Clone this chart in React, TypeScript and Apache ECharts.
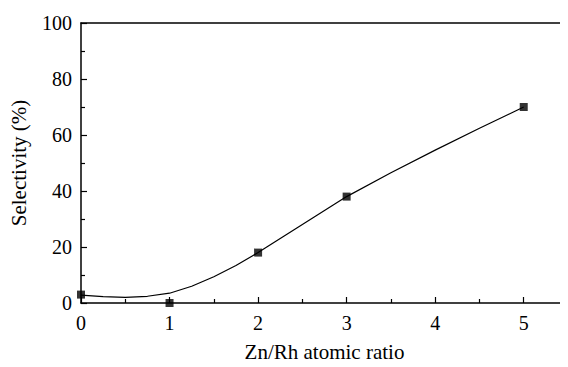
import React, { useEffect, useRef } from "react";
import * as echarts from "echarts";

const ratios = [0, 1, 2, 3, 5];
const selectivity = [3, 0, 18, 38, 70];
const fitX = [0, 0.25, 0.5, 0.75, 1, 1.25, 1.5, 1.75, 2, 2.5, 3, 3.5, 4, 4.5, 5];
const fitY = [2.8, 2.3, 2.0, 2.4, 3.5, 6.0, 9.4, 13.4, 18, 28, 38, 46.5, 54.6, 62.4, 70];
const yTicks = [0, 20, 40, 60, 80, 100];

export default function App() {
  const ref = useRef<HTMLDivElement>(null);
  useEffect(() => {
    if (!ref.current) return;
    const chart = echarts.init(ref.current, undefined, { renderer: "svg" });
    const font = "'Liberation Serif', 'Times New Roman', serif";
    chart.setOption({
      animation: false,
      grid: { left: 78, top: 23, right: 0, bottom: 57 },
      xAxis: [
        {
          type: "value",
          min: 0,
          max: 5.5,
          interval: 1,
          name: "Zn/Rh atomic ratio",
          nameLocation: "middle",
          nameGap: 38,
          nameTextStyle: { fontFamily: font, fontSize: 21, color: "#000" },
          axisLine: { lineStyle: { color: "#000", width: 1.5 } },
          axisTick: { inside: true, length: 6, lineStyle: { color: "#000", width: 1.2 } },
          minorTick: { show: true, splitNumber: 2, length: 4, lineStyle: { color: "#000", width: 1.2 } },
          axisLabel: {
            fontFamily: font,
            fontSize: 20,
            color: "#000",
            margin: 10,
            showMaxLabel: false,
          },
          splitLine: { show: false },
        },
        {
          type: "value",
          position: "top",
          min: 0,
          max: 5.5,
          axisLine: { show: true, onZero: false, lineStyle: { color: "#000", width: 1.5 } },
          axisTick: { show: false },
          axisLabel: { show: false },
          splitLine: { show: false },
        },
      ],
      yAxis: {
        type: "value",
        min: yTicks[0],
        max: yTicks[yTicks.length - 1],
        interval: 20,
        name: "Selectivity (%)",
        nameLocation: "middle",
        nameGap: 52,
        nameTextStyle: { fontFamily: font, fontSize: 21, color: "#000" },
        axisLine: { show: true, lineStyle: { color: "#000", width: 1.5 } },
        axisTick: { inside: true, length: 6, lineStyle: { color: "#000", width: 1.2 } },
        minorTick: { show: true, splitNumber: 2, length: 4, lineStyle: { color: "#000", width: 1.2 } },
        axisLabel: { fontFamily: font, fontSize: 20, color: "#000", margin: 9 },
        splitLine: { show: false },
      },
      series: [
        {
          type: "line",
          data: fitX.map((x, i) => [x, fitY[i]]),
          smooth: false,
          showSymbol: false,
          lineStyle: { color: "#000", width: 1.2, join: "round" },
          z: 2,
        },
        {
          type: "scatter",
          data: ratios.map((x, i) => [x, selectivity[i]]),
          symbol: "rect",
          symbolSize: 8,
          itemStyle: { color: "#000" },
          clip: false,
          z: 3,
        },
      ],
    });
    return () => chart.dispose();
  }, []);
  return <div ref={ref} style={{ width: 568, height: 367, margin: -8 }} />;
}
